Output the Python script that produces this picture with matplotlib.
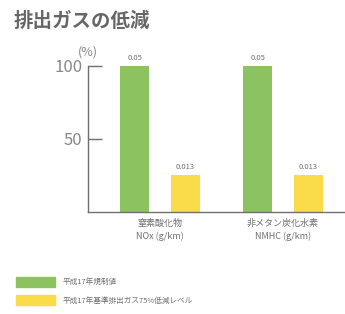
import matplotlib
matplotlib.use('Agg')
import matplotlib.pyplot as plt
from matplotlib.patches import Patch
import numpy as np

plt.rcParams['font.family'] = ['Noto Sans CJK JP', 'DejaVu Sans']

categories = ['窒素酸化物\nNOx (g/km)', '非メタン炭化水素\nNMHC (g/km)']
regulation = [100, 100]          # 平成17年規制値 (%)
low_level = [25, 25]             # 75%低減レベル (%)
regulation_labels = ['0.05', '0.05']
low_labels = ['0.013', '0.013']
series_names = ['平成17年規制値', '平成17年基準排出ガス75%低減レベル']

green = '#8dc261'
yellow = '#fadc4b'
grey = '#707070'

fig = plt.figure(figsize=(3.45, 3.14), dpi=100)
ax = fig.add_axes([0.255, 0.325, 0.745, 0.465])

x = np.arange(len(categories))
w = 0.236
off = 0.205
b1 = ax.bar(x - off, regulation, w, color=green)
b2 = ax.bar(x + off, low_level, w, color=yellow)

for bars, labs in ((b1, regulation_labels), (b2, low_labels)):
    for b, t in zip(bars, labs):
        ax.text(b.get_x() + b.get_width() / 2, b.get_height() + 3, t,
                ha='center', va='bottom', fontsize=5.5, color=grey, clip_on=False)

ax.set_xlim(-0.585, 1.504)
ax.set_ylim(0, 100)
ax.set_yticks([50, 100])
ax.set_yticklabels(['50', '100'], fontsize=12, color='#888888')
ax.tick_params(axis='y', direction='in', length=10, width=1, color=grey, pad=4)
ax.set_xticks(x)
ax.set_xticklabels(categories, fontsize=6.5, color=grey, linespacing=1.5)
ax.tick_params(axis='x', length=0, pad=5)
for s in ['top', 'right']:
    ax.spines[s].set_visible(False)
for s in ['left', 'bottom']:
    ax.spines[s].set_color(grey)
    ax.spines[s].set_linewidth(1)

fig.text(0.255, 0.822, '(%)', fontsize=9, color='#888888', ha='center')
fig.text(0.04, 0.915, '排出ガスの低減', fontsize=14, fontweight='bold', color='#666666')

handles = [Patch(color=green), Patch(color=yellow)]
fig.legend(handles, series_names, loc='upper left', bbox_to_anchor=(0.025, 0.14),
           frameon=False, fontsize=5.5, handlelength=5.2, handleheight=1.6,
           labelspacing=1.1, handletextpad=1.0, labelcolor=grey)

fig.savefig('out.png', dpi=100)
